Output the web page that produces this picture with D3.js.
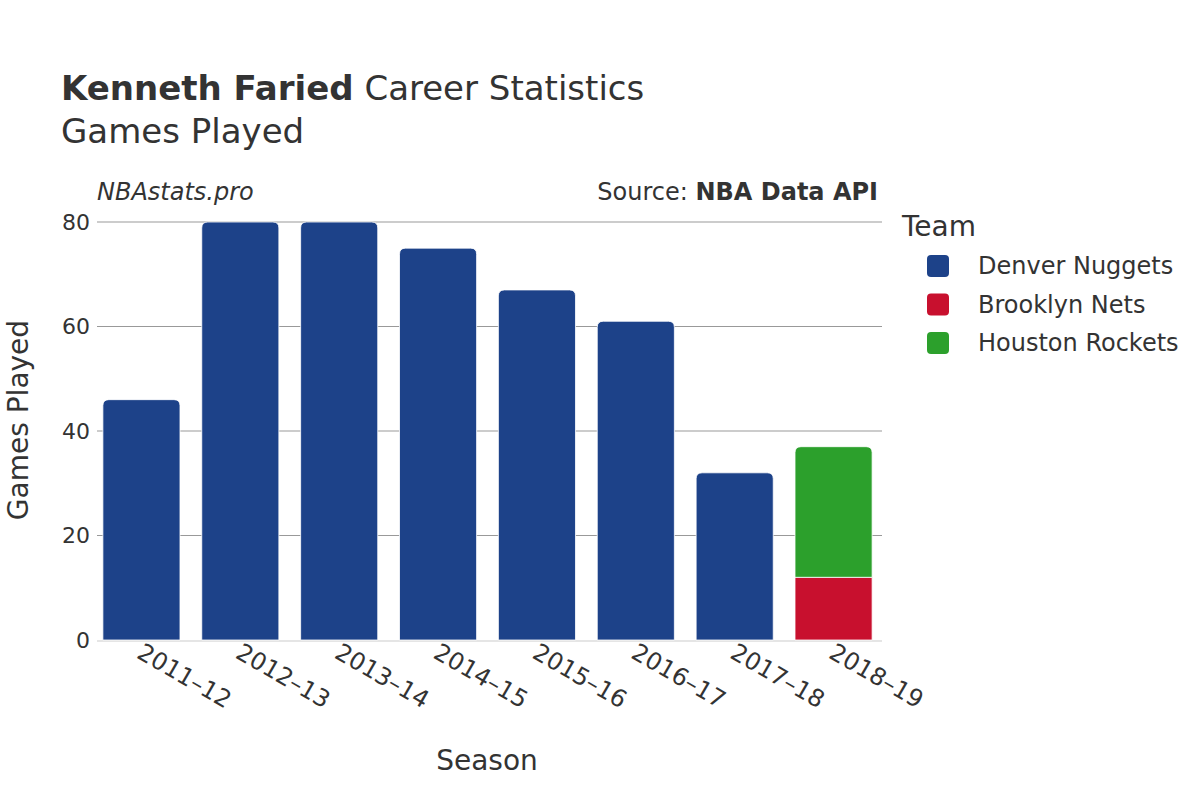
<!DOCTYPE html>
<html>
<head>
<meta charset="utf-8">
<script src="https://cdn.jsdelivr.net/npm/d3@7"></script>
<style>
  body { margin: 0; background: #fff; }
  text { font-family: "DejaVu Sans", sans-serif; fill: #333; }
</style>
</head>
<body>
<svg id="chart" width="1200" height="800"></svg>
<script>
// data
var seasons = ["2011\u201312", "2012\u201313", "2013\u201314", "2014\u201315", "2015\u201316", "2016\u201317", "2017\u201318", "2018\u201319"];
var teams = ["Denver Nuggets", "Brooklyn Nets", "Houston Rockets"];
var teamColors = ["#1d4289", "#c8102e", "#2ca02c"];
var denverGames = [46, 80, 80, 75, 67, 61, 32, 0];
var brooklynGames = [0, 0, 0, 0, 0, 0, 0, 12];
var houstonGames = [0, 0, 0, 0, 0, 0, 0, 25];
var yTicks = [0, 20, 40, 60, 80];

var svg = d3.select("#chart");
var margin = {left: 97, right: 882, top: 222, bottom: 640};

var x = d3.scaleBand()
    .domain(seasons)
    .range([92, 883])
    .paddingInner(0.22)
    .paddingOuter(0.11);

var y = d3.scaleLinear()
    .domain([0, 80])
    .range([margin.bottom, margin.top]);

var color = d3.scaleOrdinal().domain(teams).range(teamColors);

// gridlines
svg.append("g").selectAll("line")
    .data(yTicks.filter(function(d) { return d > 0; }))
    .enter().append("line")
    .attr("x1", margin.left).attr("x2", margin.right)
    .attr("y1", function(d) { return y(d); })
    .attr("y2", function(d) { return y(d); })
    .attr("stroke", "#999").attr("stroke-width", 1);

// baseline
svg.append("line")
    .attr("x1", margin.left).attr("x2", margin.right)
    .attr("y1", y(0) + 1).attr("y2", y(0) + 1)
    .attr("stroke", "#e5e5e5").attr("stroke-width", 2);

// stacked data
var rows = seasons.map(function(s, i) {
    return {season: s, "Denver Nuggets": denverGames[i], "Brooklyn Nets": brooklynGames[i], "Houston Rockets": houstonGames[i]};
});
var stack = d3.stack().keys(teams)(rows);

function barPath(x0, w, yTop, yBot, r) {
    r = Math.min(r, (yBot - yTop));
    return "M" + x0 + "," + yBot +
        "V" + (yTop + r) +
        "Q" + x0 + "," + yTop + " " + (x0 + r) + "," + yTop +
        "H" + (x0 + w - r) +
        "Q" + (x0 + w) + "," + yTop + " " + (x0 + w) + "," + (yTop + r) +
        "V" + yBot + "Z";
}

var tops = seasons.map(function(s, i) { return denverGames[i] + brooklynGames[i] + houstonGames[i]; });

stack.forEach(function(layer) {
    svg.append("g").selectAll("path")
        .data(layer.filter(function(d) { return d[1] > d[0]; }))
        .enter().append("path")
        .attr("d", function(d) {
            var isTop = d[1] === tops[seasons.indexOf(d.data.season)];
            return barPath(x(d.data.season), x.bandwidth(), y(d[1]), y(d[0]), isTop ? 6 : 0);
        })
        .attr("fill", color(layer.key))
        .attr("stroke", "#fff")
        .attr("stroke-width", 0.8);
});

// y axis labels
svg.append("g").selectAll("text")
    .data(yTicks)
    .enter().append("text")
    .attr("x", 90)
    .attr("y", function(d) { return y(d); })
    .attr("dy", "0.35em")
    .attr("text-anchor", "end")
    .style("font-size", "22px")
    .text(function(d) { return d; });

// x axis labels
svg.append("g").selectAll("text")
    .data(seasons)
    .enter().append("text")
    .attr("transform", function(d) {
        return "translate(" + (x(d) + x.bandwidth() / 2 - 6) + "," + 657 + ") rotate(30)";
    })
    .attr("text-anchor", "start")
    .style("font-size", "24px")
    .text(function(d) { return d; });

// axis titles
svg.append("text")
    .attr("x", 487)
    .attr("y", 770)
    .attr("text-anchor", "middle")
    .style("font-size", "28px")
    .text("Season");

svg.append("text")
    .attr("transform", "translate(28,420) rotate(-90)")
    .attr("text-anchor", "middle")
    .style("font-size", "28px")
    .text("Games Played");

// titles
var title = svg.append("text")
    .attr("x", 61).attr("y", 100)
    .style("font-size", "34px");
title.append("tspan").style("font-weight", "bold").text("Kenneth Faried");
title.append("tspan").text(" Career Statistics");

svg.append("text")
    .attr("x", 61).attr("y", 143)
    .style("font-size", "34px")
    .text("Games Played");

svg.append("text")
    .attr("x", 97).attr("y", 200)
    .style("font-size", "24px")
    .style("font-style", "italic")
    .text("NBAstats.pro");

var src = svg.append("text")
    .attr("x", 878).attr("y", 200)
    .attr("text-anchor", "end")
    .style("font-size", "24px");
src.append("tspan").text("Source: ");
src.append("tspan").style("font-weight", "bold").text("NBA Data API");

// legend
svg.append("text")
    .attr("x", 902).attr("y", 236)
    .style("font-size", "28px")
    .text("Team");

var legend = svg.append("g").selectAll("g")
    .data(teams)
    .enter().append("g")
    .attr("transform", function(d, i) { return "translate(927," + (266 + i * 38.5) + ")"; });

legend.append("rect")
    .attr("x", 0).attr("y", -11)
    .attr("width", 22).attr("height", 22)
    .attr("rx", 4)
    .attr("fill", function(d) { return color(d); });

legend.append("text")
    .attr("x", 51).attr("y", 0)
    .attr("dy", "0.35em")
    .style("font-size", "24px")
    .text(function(d) { return d; });
</script>
</body>
</html>
